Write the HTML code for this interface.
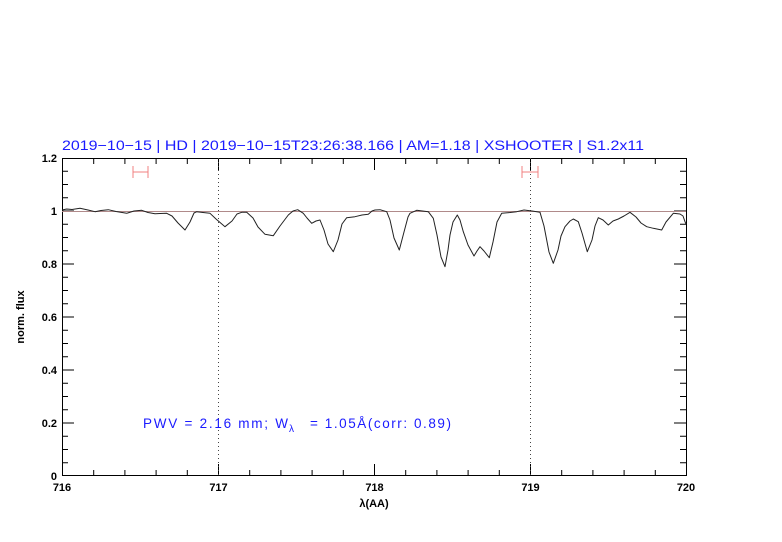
<!DOCTYPE html>
<html><head><style>body{margin:0;background:#fff}svg{display:block}</style></head><body>
<svg width="782" height="542" viewBox="0 0 782 542" xmlns="http://www.w3.org/2000/svg" font-family="Liberation Sans, sans-serif">
<rect width="782" height="542" fill="#fff"/>
<g stroke="#000" stroke-width="1" fill="none">
<rect x="62.5" y="158.5" width="624" height="317"/>
<path d="M93.7 476v-6M124.9 476v-6M156.1 476v-6M187.3 476v-6M249.7 476v-6M280.9 476v-6M312.1 476v-6M343.3 476v-6M405.7 476v-6M436.9 476v-6M468.1 476v-6M499.3 476v-6M561.7 476v-6M592.9 476v-6M624.1 476v-6M655.3 476v-6
M218.5 476v-12M374.5 476v-12M530.5 476v-12
M93.7 158v6M124.9 158v6M156.1 158v6M187.3 158v6M249.7 158v6M280.9 158v6M312.1 158v6M343.3 158v6M405.7 158v6M436.9 158v6M468.1 158v6M499.3 158v6M561.7 158v6M592.9 158v6M624.1 158v6M655.3 158v6
M218.5 158v12M374.5 158v12M530.5 158v12"/>
<path d="M62 449.5h6M62 423h6M62 396.5h6M62 370h6M62 343.5h6M62 317h6M62 290.5h6M62 264h6M62 237.5h6M62 211h6M62 184.5h6M62 171.25h6
M62 462.75h6M62 436.25h6M62 409.75h6M62 383.25h6M62 356.75h6M62 330.25h6M62 303.75h6M62 277.25h6M62 250.75h6M62 224.25h6M62 197.75h6
M686 449.5h-6M686 423h-6M686 396.5h-6M686 370h-6M686 343.5h-6M686 317h-6M686 290.5h-6M686 264h-6M686 237.5h-6M686 211h-6M686 184.5h-6M686 171.25h-6
M686 462.75h-6M686 436.25h-6M686 409.75h-6M686 383.25h-6M686 356.75h-6M686 330.25h-6M686 303.75h-6M686 277.25h-6M686 250.75h-6M686 224.25h-6M686 197.75h-6"/>
<path d="M62 423h12M62 370h12M62 317h12M62 264h12M62 211h12M686 423h-12M686 370h-12M686 317h-12M686 264h-12M686 211h-12"/>
</g>
<line x1="62" y1="211.5" x2="686" y2="211.5" stroke="#b08a8a" stroke-width="1"/>
<g stroke="#444" stroke-width="1" stroke-dasharray="1,3">
<line x1="218.5" y1="158" x2="218.5" y2="476"/>
<line x1="530.5" y1="158" x2="530.5" y2="476"/>
</g>
<g stroke="#f08080" stroke-width="1">
<path d="M133 172h15M133 166v12M148 166v12M522 172h16M522 166v12M538 166v12"/>
</g>
<polyline fill="none" stroke="#222" stroke-width="1" stroke-linejoin="round" points="62,210 66.7,209 72,209.5 80,208.3 88,210 95,211.7 101,210.5 108.3,209.7 116,211.5 126.7,213.3 134,211 141.7,210.3 148,212.5 155,213.7 160,213.5 166.7,213.3 172,216 178,223 185,230 190,222 194,213 196.7,211.7 203,212.5 210,213.3 216,219 225,226.7 232,221 237,214 241.7,212.3 246.7,212.3 253,218 258,227 265,234.3 273.3,235.7 280,226 288.3,215 293,211 297.7,209.7 303.3,213.3 307,218 311.7,223.3 316,221 320,220 324,230 328,244 333.3,251.7 338,240 342,224 346.7,217.7 355,216.7 362,215 368.3,214.3 372,211 375,210 380,209.7 386.7,211.7 390,220 394,238 399.3,250 404,232 408,217 410,213.3 416.7,210.3 428.3,211.7 433.3,218.3 437,235 441,257 445,266.7 448,250 450,235 453,222 457.3,215 460,220 463.3,231.7 468,245 474,256 477,251 480,246.7 484,251 489.3,257.7 493,242 497,222 501.7,213.3 510,212.5 516.7,211.7 524,210 532,211 540,212.3 544,226 549,252 553.3,263.3 558,250 561,236 565,226.7 570,221 573.3,219 578.3,221.7 582,233 587.3,251.7 592,240 595,226 598.3,217.7 603,220 608.3,225 613,221 618.3,219 624,216 630,212.3 636,217 641,223 646.7,226.7 653.3,228.3 661.7,230 666,222 673.3,213.3 680,214 683,216 685,221.7 686,224"/>
<g font-size="11" font-weight="bold" fill="#000" text-anchor="end">
<text x="57" y="427">0.2</text><text x="57" y="374">0.4</text><text x="57" y="321">0.6</text><text x="57" y="268">0.8</text><text x="57" y="215">1</text><text x="57" y="162">1.2</text><text x="57" y="480">0</text>
</g>
<g font-size="11" font-weight="bold" fill="#000" text-anchor="middle">
<text x="62" y="491">716</text><text x="218.5" y="491">717</text><text x="374.5" y="491">718</text><text x="530.5" y="491">719</text><text x="686" y="491">720</text>
<text x="374" y="507">λ(AA)</text>
<text transform="translate(24,317) rotate(-90)">norm. flux</text>
</g>
<text x="62" y="150" font-size="13.5" fill="#1a1aff" textLength="582" lengthAdjust="spacingAndGlyphs">2019−10−15 | HD | 2019−10−15T23:26:38.166 | AM=1.18 | XSHOOTER | S1.2x11</text>
<g font-size="13.5" fill="#1a1aff">
<text x="143" y="428" textLength="145" lengthAdjust="spacing">PWV = 2.16 mm; W</text>
<text x="289" y="432" font-size="10">λ</text>
<text x="310" y="428" textLength="141" lengthAdjust="spacing">= 1.05Å(corr: 0.89)</text>
</g>
</svg>
</body></html>
